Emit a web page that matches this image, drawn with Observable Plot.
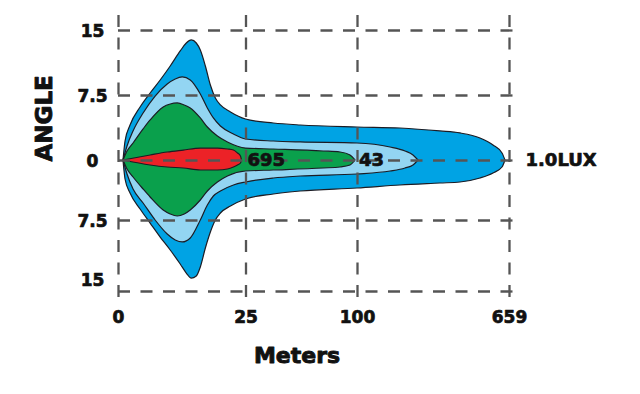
<!DOCTYPE html>
<html>
<head>
<meta charset="utf-8">
<script src="https://cdn.jsdelivr.net/npm/d3@7"></script>
<script src="https://cdn.jsdelivr.net/npm/@observablehq/plot@0.6"></script>
<style>
  html, body { margin: 0; padding: 0; background: #fff; }
  #chart { width: 640px; height: 394px; }
</style>
</head>
<body>
<div id="chart"></div>
<script>
// Axis ticks
const xTicks = [0, 25, 100, 659];
const xTickLabels = ["0", "25", "100", "659"];
const yGrid = [15, 7.5, 0, -7.5, -15];
const yTickLabels = ["15", "7.5", "0", "7.5", "15"];

// Outer blue (1.0 lux): distance (m), upper and lower angle (deg)
const blueX = [0.98, 1.38, 2.36, 4.33, 6.30, 8.27, 10.24, 12.20, 13.39, 14.37, 15.35, 16.14, 17.13, 18.11, 19.09, 20.08, 22.05, 25, 43.75, 61.83, 100, 258.1, 405.2, 478.8, 552.3, 600.2, 633.3, 644.3];
const blueTop = [0, 2.19, 4.04, 6.12, 7.73, 9.23, 10.85, 12.58, 13.50, 13.85, 13.50, 12.69, 10.85, 8.65, 7.15, 6.35, 5.54, 4.73, 4.27, 4.04, 3.81, 3.69, 3.35, 3.12, 2.54, 1.73, 0.81, 0];
const blueBottom = [0, -2.375, -4.125, -6.125, -7.82, -9.30, -10.67, -12.15, -13.10, -13.63, -13.41, -12.46, -10.46, -8.77, -7.5, -6.625, -5.75, -4.875, -4.25, -3.875, -3.5, -3.125, -2.875, -2.75, -2.25, -1.625, -0.875, 0];

// Light blue
const lightX = [0.98, 1.77, 2.95, 4.92, 7.28, 9.65, 11.22, 12.60, 14.17, 16.14, 17.52, 18.70, 20.08, 22.64, 25, 43.75, 61.83, 100, 221.4, 276.5, 305.9, 324.3];
const lightTop = [0, 1.62, 3.35, 5.42, 7.38, 8.77, 9.35, 9.58, 9.23, 7.62, 6.00, 4.85, 3.92, 3.00, 2.42, 2.19, 2.08, 1.96, 1.50, 1.04, 0.58, 0];
const lightBottom = [0, -1.75, -3.625, -5.375, -7.5, -8.98, -9.61, -9.82, -9.40, -7.5, -5.625, -4.5, -3.875, -3.125, -2.75, -2.25, -2.0, -1.75, -1.375, -1.0, -0.625, 0];

// Green (43 lux)
const greenX = [0.98, 1.77, 2.95, 4.92, 6.30, 8.86, 10.24, 11.61, 12.99, 14.17, 16.14, 17.52, 19.49, 21.46, 25, 43.75, 77.23, 88.62, 95.31, 98.66];
const greenTop = [0, 1.04, 1.96, 3.58, 4.62, 6.12, 6.46, 6.58, 6.35, 6.00, 4.85, 3.81, 2.77, 2.08, 1.38, 1.27, 1.04, 0.92, 0.58, 0];
const greenBottom = [0, -1.125, -2.125, -3.625, -4.625, -6.25, -6.75, -7.0, -6.75, -6.25, -5.0, -3.875, -2.75, -2.0, -1.375, -1.25, -1.0, -0.875, -0.625, 0];

// Red (695 lux)
const redX = [0.98, 6.30, 9.65, 12.80, 16.14, 19.49, 21.46, 22.64, 23.43, 24.02, 24.21];
const redTop = [0, 0.58, 0.92, 1.15, 1.38, 1.38, 1.27, 1.15, 0.81, 0.46, 0];
const redBottom = [0, -0.625, -0.875, -1.0, -1.25, -1.25, -1.125, -0.875, -0.625, -0.375, 0];

// Zone labels
const zoneX = [25, 100];
const zoneLabels = ["695", "43"];
const edgeX = [659];
const edgeLabels = ["1.0LUX"];

const font = "DejaVu Sans";
const outline = "#1c1c24";
const gridColor = "#555555";
const ink = "#111111";
const heavy = { fontWeight: "bold", fill: ink, stroke: ink, strokeWidth: 0.7 };

function zone(xs, top, bottom, fill) {
  return Plot.areaY(xs, {
    x: xs, y1: top, y2: bottom,
    fill, stroke: outline, strokeWidth: 1.2,
    curve: "monotone-x"
  });
}

const chart = Plot.plot({
  width: 640,
  height: 394,
  marginLeft: 118,
  marginRight: 124,
  marginTop: 15,
  marginBottom: 96,
  style: { fontFamily: font, background: "#ffffff" },
  x: { type: "linear", domain: [0, 25, 100, 659], range: [118, 245.5, 357, 509], axis: null },
  y: { type: "linear", domain: [-15, -7.5, 0, 7.5, 15], range: [291, 220, 160, 95, 30], axis: null },
  marks: [
    zone(blueX, blueTop, blueBottom, "#00a3e4"),
    zone(lightX, lightTop, lightBottom, "#93d5f2"),
    zone(greenX, greenTop, greenBottom, "#0aa04c"),
    zone(redX, redTop, redBottom, "#ec2227"),
    Plot.ruleX(xTicks, { x: d => d, stroke: gridColor, strokeWidth: 2.3, strokeDasharray: "12,10.5" }),
    Plot.ruleY(yGrid, { y: d => d, stroke: gridColor, strokeWidth: 2.3, strokeDasharray: "12,10.5" }),
    // y tick labels
    Plot.text(yGrid.slice(0, 4), {
      y: d => d, text: (d, i) => yTickLabels[i],
      frameAnchor: "left", dx: -26, dy: 1, textAnchor: "middle",
      fontSize: 17, ...heavy
    }),
    Plot.text(yGrid.slice(4), {
      y: d => d, text: (d, i) => yTickLabels[4 + i],
      frameAnchor: "left", dx: -26, dy: -11, textAnchor: "middle",
      fontSize: 17, ...heavy
    }),
    // x tick labels
    Plot.text(xTicks, {
      x: d => d, text: (d, i) => xTickLabels[i],
      frameAnchor: "bottom", dy: 24, textAnchor: "middle",
      fontSize: 17, ...heavy
    }),
    // zone values
    Plot.text(zoneX, {
      x: d => d, y: () => 0, text: (d, i) => zoneLabels[i],
      textAnchor: "start", dx: 1.5,
      fontSize: 18, ...heavy
    }),
    Plot.text(edgeX, {
      x: d => d, y: () => 0, text: (d, i) => edgeLabels[i],
      textAnchor: "start", dx: 16,
      fontSize: 18, ...heavy
    }),
    // axis titles
    Plot.text(["ANGLE"], {
      frameAnchor: "left", dx: -74, dy: 4.5, rotate: -90,
      text: d => d, fontSize: 23, ...heavy, strokeWidth: 0.9
    }),
    Plot.text(["Meters"], {
      frameAnchor: "bottom", dx: -20.5, dy: 64,
      text: d => d, fontSize: 22, ...heavy, strokeWidth: 0.9
    })
  ]
});

document.getElementById("chart").appendChild(chart);
</script>
</body>
</html>
